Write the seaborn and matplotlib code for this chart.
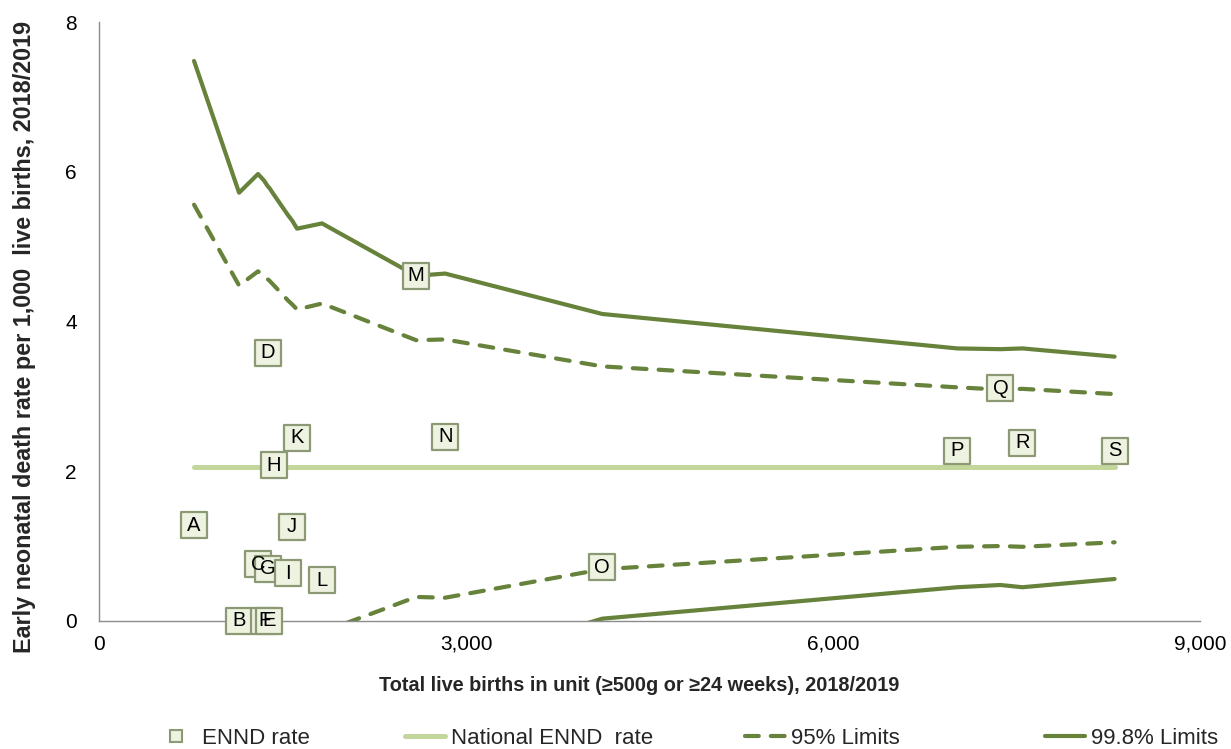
import numpy as np
import pandas as pd
import matplotlib
matplotlib.use("Agg")
import matplotlib.pyplot as plt
from matplotlib.lines import Line2D
import seaborn as sns

# Units, their live births and early neonatal death rates (per 1,000)
units = ["A", "B", "C", "D", "E", "F", "G", "H", "I", "J",
         "K", "L", "M", "N", "O", "P", "Q", "R", "S"]
births = [777, 1145, 1300, 1382, 1390, 1350, 1382, 1431, 1545, 1578,
          1619, 1823, 2592, 2829, 4113, 7015, 7367, 7547, 8300]
ennd_rate = [1.28, 0.0, 0.76, 3.58, 0.0, 0.0, 0.70, 2.08, 0.64, 1.26,
             2.45, 0.54, 4.61, 2.46, 0.72, 2.27, 3.11, 2.38, 2.27]

national_rate = 2.06

# Control limits evaluated at each unit's births
upper_95 = [5.56, 4.48, 4.67, 4.56, 4.55, 4.61, 4.56, 4.48, 4.28, 4.23,
            4.16, 4.24, 3.75, 3.76, 3.40, 3.12, 3.09, 3.10, 3.03]
lower_95 = [np.nan, np.nan, np.nan, np.nan, np.nan, np.nan, np.nan, np.nan, np.nan, np.nan,
            np.nan, -0.15, 0.32, 0.31, 0.69, 0.99, 1.00, 0.99, 1.05]
upper_998 = [7.48, 5.72, 5.97, 5.80, 5.79, 5.88, 5.80, 5.69, 5.42, 5.35,
             5.24, 5.31, 4.61, 4.64, 4.10, 3.64, 3.63, 3.64, 3.53]
lower_998 = [np.nan, np.nan, np.nan, np.nan, np.nan, np.nan, np.nan, np.nan, np.nan, np.nan,
             np.nan, np.nan, np.nan, -0.60, 0.03, 0.45, 0.48, 0.45, 0.56]

x_ticks = [0, 3000, 6000, 9000]
y_ticks = [0, 2, 4, 6, 8]

df = pd.DataFrame({
    "unit": units, "births": births, "rate": ennd_rate,
    "u95": upper_95, "l95": lower_95, "u998": upper_998, "l998": lower_998,
}).sort_values("births", kind="stable")
df["national"] = national_rate

LIMIT_COLOR = "#67823a"
NATIONAL_COLOR = "#c3d69b"
BOX_FILL = "#eef3e1"
BOX_EDGE = "#8b9a74"

sns.set_theme(style="white")
plt.rcParams["font.family"] = ["Liberation Sans", "DejaVu Sans"]

fig = plt.figure(figsize=(12.31, 7.49), dpi=100)
ax = fig.add_axes([0.0804, 0.171, 0.8946, 0.7996])

dash = (0, (3.3, 2.9))
# 99.8% limits
sns.lineplot(data=df, x="births", y="u998", ax=ax, color=LIMIT_COLOR, lw=3,
             estimator=None, sort=True, solid_capstyle="round", zorder=2)
sns.lineplot(data=df.dropna(subset=["l998"]), x="births", y="l998", ax=ax,
             color=LIMIT_COLOR, lw=3, estimator=None, sort=True,
             solid_capstyle="round", zorder=2)
# 95% limits
sns.lineplot(data=df, x="births", y="u95", ax=ax, color=LIMIT_COLOR, lw=3,
             estimator=None, sort=True, linestyle=dash,
             dash_capstyle="round", zorder=2)
sns.lineplot(data=df.dropna(subset=["l95"]), x="births", y="l95", ax=ax,
             color=LIMIT_COLOR, lw=3, estimator=None, sort=True,
             linestyle=dash, dash_capstyle="round", zorder=2)
# National rate
sns.lineplot(data=df, x="births", y="national", ax=ax, color=NATIONAL_COLOR,
             lw=3.6, estimator=None, sort=True, solid_capstyle="round", zorder=3)

# Unit boxes (in order of births), letters on top of all boxes
for i, row in enumerate(df.itertuples()):
    ax.scatter(row.births, row.rate, marker="s", s=330, c=BOX_FILL,
               edgecolors=BOX_EDGE, linewidths=1.6, zorder=10 + 0.1 * i,
               clip_on=False)
    ax.text(row.births, row.rate, row.unit, ha="center", va="center",
            fontsize=14.5, color="black", zorder=20, clip_on=False)

ax.set_xlim(0, 9000)
ax.set_ylim(0, 8)
ax.set_xticks(x_ticks)
ax.set_xticklabels([f"{v:,}" for v in x_ticks])
ax.set_yticks(y_ticks)
ax.tick_params(axis="both", length=0, labelsize=15, colors="black")
ax.tick_params(axis="y", pad=16)
ax.tick_params(axis="x", pad=10)

for side in ["top", "right"]:
    ax.spines[side].set_visible(False)
for side in ["left", "bottom"]:
    ax.spines[side].set_color("#8c8c8c")
    ax.spines[side].set_linewidth(1.0)

label_font = ["Liberation Sans Narrow", "Liberation Sans", "DejaVu Sans"]
ax.set_xlabel("Total live births in unit (\u2265500g or \u226524 weeks), 2018/2019",
              fontsize=14.3, fontweight="bold", family=label_font)
ax.set_ylabel("Early neonatal death rate per 1,000  live births, 2018/2019",
              fontsize=16.8, fontweight="bold", family=label_font)
ax.xaxis.set_label_coords(0.4905, -0.092)
ax.yaxis.set_label_coords(-0.057, 0.474)

# Legend entries laid out along the bottom
entries = [
    (Line2D([], [], marker="s", ls="none", markersize=9, markerfacecolor=BOX_FILL,
            markeredgecolor=BOX_EDGE, markeredgewidth=1.5), "ENND rate", 156),
    (Line2D([], [], color=NATIONAL_COLOR, lw=3.6), "National ENND  rate", 405),
    (Line2D([], [], color=LIMIT_COLOR, lw=3, linestyle=dash, dash_capstyle="round"),
     "95% Limits", 745),
    (Line2D([], [], color=LIMIT_COLOR, lw=3), "99.8% Limits", 1045),
]
for handle, text, x_px in entries:
    fig.legend([handle], [text], loc="center left",
               bbox_to_anchor=(x_px / 1231, 1 - 738 / 749), frameon=False,
               fontsize=16, handlelength=1.8, handletextpad=0.25,
               borderpad=0, borderaxespad=0)

fig.savefig("out.png", dpi=100, facecolor="white")
